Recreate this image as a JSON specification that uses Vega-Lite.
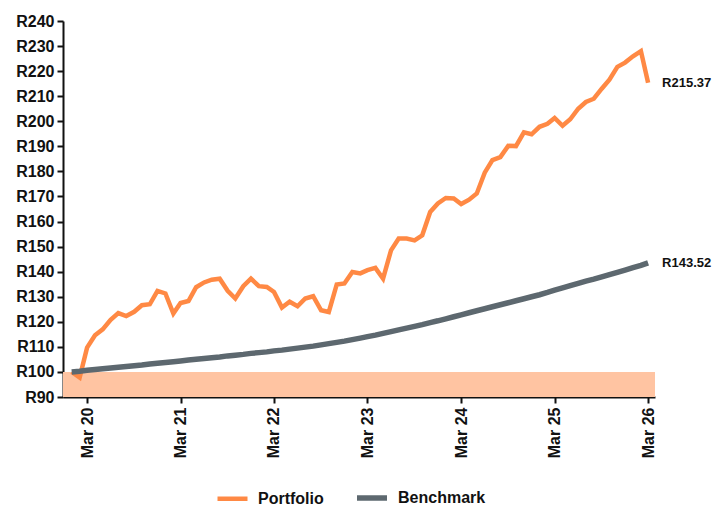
{
  "$schema": "https://vega.github.io/schema/vega-lite/v6.json",
  "autosize": "none",
  "width": 592,
  "height": 376,
  "padding": {"left": 63, "top": 21, "right": 59, "bottom": 109},
  "config": {
    "view": {"stroke": null},
    "font": "Liberation Sans",
    "axis": {"labelFont": "Liberation Sans", "labelFontWeight": "bold", "labelFontSize": 16, "labelColor": "#111111", "domainColor": "#111111", "domainWidth": 2, "tickColor": "#111111", "tickWidth": 2, "tickSize": 6, "grid": false, "title": null, "labelOverlap": false}
  },
  "datasets": {
    "series": [
      {"d":"2020-01-01","Portfolio":100,"Benchmark":100.0},
      {"d":"2020-02-01","Portfolio":97.8,"Benchmark":100.3},
      {"d":"2020-03-01","Portfolio":109.7,"Benchmark":100.7},
      {"d":"2020-04-01","Portfolio":114.6,"Benchmark":101.0},
      {"d":"2020-05-01","Portfolio":117,"Benchmark":101.3},
      {"d":"2020-06-01","Portfolio":120.8,"Benchmark":101.6},
      {"d":"2020-07-01","Portfolio":123.5,"Benchmark":101.9},
      {"d":"2020-08-01","Portfolio":122.3,"Benchmark":102.2},
      {"d":"2020-09-01","Portfolio":124,"Benchmark":102.5},
      {"d":"2020-10-01","Portfolio":126.6,"Benchmark":102.8},
      {"d":"2020-11-01","Portfolio":127,"Benchmark":103.2},
      {"d":"2020-12-01","Portfolio":132.3,"Benchmark":103.5},
      {"d":"2021-01-01","Portfolio":131.3,"Benchmark":103.8},
      {"d":"2021-02-01","Portfolio":123.3,"Benchmark":104.1},
      {"d":"2021-03-01","Portfolio":127.5,"Benchmark":104.4},
      {"d":"2021-04-01","Portfolio":128.3,"Benchmark":104.8},
      {"d":"2021-05-01","Portfolio":133.8,"Benchmark":105.1},
      {"d":"2021-06-01","Portfolio":135.7,"Benchmark":105.4},
      {"d":"2021-07-01","Portfolio":136.8,"Benchmark":105.7},
      {"d":"2021-08-01","Portfolio":137.2,"Benchmark":106.0},
      {"d":"2021-09-01","Portfolio":132.4,"Benchmark":106.4},
      {"d":"2021-10-01","Portfolio":129.3,"Benchmark":106.7},
      {"d":"2021-11-01","Portfolio":134.2,"Benchmark":107.0},
      {"d":"2021-12-01","Portfolio":137.2,"Benchmark":107.4},
      {"d":"2022-01-01","Portfolio":134.2,"Benchmark":107.7},
      {"d":"2022-02-01","Portfolio":133.9,"Benchmark":108.0},
      {"d":"2022-03-01","Portfolio":131.9,"Benchmark":108.4},
      {"d":"2022-04-01","Portfolio":125.7,"Benchmark":108.7},
      {"d":"2022-05-01","Portfolio":128,"Benchmark":109.1},
      {"d":"2022-06-01","Portfolio":126.2,"Benchmark":109.5},
      {"d":"2022-07-01","Portfolio":129.3,"Benchmark":109.9},
      {"d":"2022-08-01","Portfolio":130.2,"Benchmark":110.3},
      {"d":"2022-09-01","Portfolio":124.6,"Benchmark":110.8},
      {"d":"2022-10-01","Portfolio":123.9,"Benchmark":111.3},
      {"d":"2022-11-01","Portfolio":134.9,"Benchmark":111.8},
      {"d":"2022-12-01","Portfolio":135.3,"Benchmark":112.3},
      {"d":"2023-01-01","Portfolio":139.9,"Benchmark":112.9},
      {"d":"2023-02-01","Portfolio":139.3,"Benchmark":113.5},
      {"d":"2023-03-01","Portfolio":140.6,"Benchmark":114.1},
      {"d":"2023-04-01","Portfolio":141.5,"Benchmark":114.7},
      {"d":"2023-05-01","Portfolio":137.2,"Benchmark":115.4},
      {"d":"2023-06-01","Portfolio":148.5,"Benchmark":116.1},
      {"d":"2023-07-01","Portfolio":153.2,"Benchmark":116.8},
      {"d":"2023-08-01","Portfolio":153.2,"Benchmark":117.5},
      {"d":"2023-09-01","Portfolio":152.5,"Benchmark":118.2},
      {"d":"2023-10-01","Portfolio":154.5,"Benchmark":118.9},
      {"d":"2023-11-01","Portfolio":163.8,"Benchmark":119.7},
      {"d":"2023-12-01","Portfolio":167.2,"Benchmark":120.4},
      {"d":"2024-01-01","Portfolio":169.4,"Benchmark":121.2},
      {"d":"2024-02-01","Portfolio":169.2,"Benchmark":122.0},
      {"d":"2024-03-01","Portfolio":167,"Benchmark":122.8},
      {"d":"2024-04-01","Portfolio":168.7,"Benchmark":123.6},
      {"d":"2024-05-01","Portfolio":171.2,"Benchmark":124.4},
      {"d":"2024-06-01","Portfolio":179.5,"Benchmark":125.2},
      {"d":"2024-07-01","Portfolio":184.5,"Benchmark":126.0},
      {"d":"2024-08-01","Portfolio":185.7,"Benchmark":126.8},
      {"d":"2024-09-01","Portfolio":190.2,"Benchmark":127.6},
      {"d":"2024-10-01","Portfolio":190.1,"Benchmark":128.4},
      {"d":"2024-11-01","Portfolio":195.6,"Benchmark":129.2},
      {"d":"2024-12-01","Portfolio":194.8,"Benchmark":130.0},
      {"d":"2025-01-01","Portfolio":197.8,"Benchmark":130.8},
      {"d":"2025-02-01","Portfolio":199,"Benchmark":131.7},
      {"d":"2025-03-01","Portfolio":201.3,"Benchmark":132.6},
      {"d":"2025-04-01","Portfolio":198.2,"Benchmark":133.5},
      {"d":"2025-05-01","Portfolio":200.8,"Benchmark":134.4},
      {"d":"2025-06-01","Portfolio":205,"Benchmark":135.3},
      {"d":"2025-07-01","Portfolio":207.7,"Benchmark":136.2},
      {"d":"2025-08-01","Portfolio":209,"Benchmark":137.0},
      {"d":"2025-09-01","Portfolio":213,"Benchmark":137.9},
      {"d":"2025-10-01","Portfolio":216.6,"Benchmark":138.8},
      {"d":"2025-11-01","Portfolio":221.7,"Benchmark":139.7},
      {"d":"2025-12-01","Portfolio":223.4,"Benchmark":140.6},
      {"d":"2026-01-01","Portfolio":225.9,"Benchmark":141.6},
      {"d":"2026-02-01","Portfolio":228,"Benchmark":142.5},
      {"d":"2026-03-01","Portfolio":215.37,"Benchmark":143.52}
    ],
    "ends": [
      {"d":"2026-03-01","value":215.37,"label":"R215.37"},
      {"d":"2026-03-01","value":143.52,"label":"R143.52"}
    ],
    "band": [
      {"a":"2019-11-28","b":"2026-03-28","lo":90,"hi":100}
    ]
  },
  "encoding": {
    "x": {
      "field": "d", "type": "temporal",
      "scale": {"type": "utc", "domain": ["2019-11-28", "2026-03-28"]},
      "axis": {
        "values": ["2020-03-01", "2021-03-01", "2022-03-01", "2023-03-01", "2024-03-01", "2025-03-01", "2026-03-01"],
        "labelExpr": "utcFormat(datum.value, '%b %y')", "labelAngle": -90, "labelPadding": 4
      }
    }
  },
  "resolve": {"axis": {"y": "shared"}},
  "layer": [
    {
      "data": {"name": "band"},
      "mark": {"type": "rect", "color": "#ffc4a2", "opacity": 1},
      "encoding": {
        "x": {"field": "a", "type": "temporal"},
        "x2": {"field": "b"},
        "y": {"field": "lo", "type": "quantitative", "scale": {"domain": [90, 240], "nice": false, "zero": false},
              "axis": {"values": [90,100,110,120,130,140,150,160,170,180,190,200,210,220,230,240], "tickCount": 16, "labelExpr": "'R' + datum.value", "labelPadding": 3, "labelOverlap": false}},
        "y2": {"field": "hi"}
      }
    },
    {
      "data": {"name": "series"},
      "transform": [{"fold": ["Portfolio", "Benchmark"], "as": ["series", "value"]}],
      "mark": {"type": "line", "strokeJoin": "miter"},
      "encoding": {
        "y": {"field": "value", "type": "quantitative",
              "axis": {"values": [90,100,110,120,130,140,150,160,170,180,190,200,210,220,230,240], "tickCount": 16, "labelExpr": "'R' + datum.value", "labelPadding": 3, "labelOverlap": false}},
        "color": {
          "field": "series", "type": "nominal",
          "scale": {"domain": ["Portfolio", "Benchmark"], "range": ["#ff8944", "#5d686f"]},
          "legend": {
            "orient": "none", "legendX": 152, "legendY": 459, "direction": "horizontal", "title": null,
            "symbolType": "stroke", "symbolSize": 900, "symbolStrokeWidth": 5,
            "labelFont": "Liberation Sans", "labelFontWeight": "bold", "labelFontSize": 16, "labelColor": "#111111",
            "labelOffset": 8, "columnPadding": 22
          }
        },
        "strokeWidth": {"field": "series", "type": "nominal", "scale": {"domain": ["Portfolio", "Benchmark"], "range": [4.5, 5.5]}, "legend": null},
        "order": {"field": "series", "sort": "ascending"}
      }
    },
    {
      "data": {"name": "ends"},
      "mark": {"type": "text", "align": "left", "baseline": "middle", "dx": 14, "font": "Liberation Sans", "fontWeight": "bold", "fontSize": 13, "color": "#111111"},
      "encoding": {
        "y": {"field": "value", "type": "quantitative",
              "axis": {"values": [90,100,110,120,130,140,150,160,170,180,190,200,210,220,230,240], "tickCount": 16, "labelExpr": "'R' + datum.value", "labelPadding": 3, "labelOverlap": false}},
        "text": {"field": "label"}
      }
    }
  ]
}
